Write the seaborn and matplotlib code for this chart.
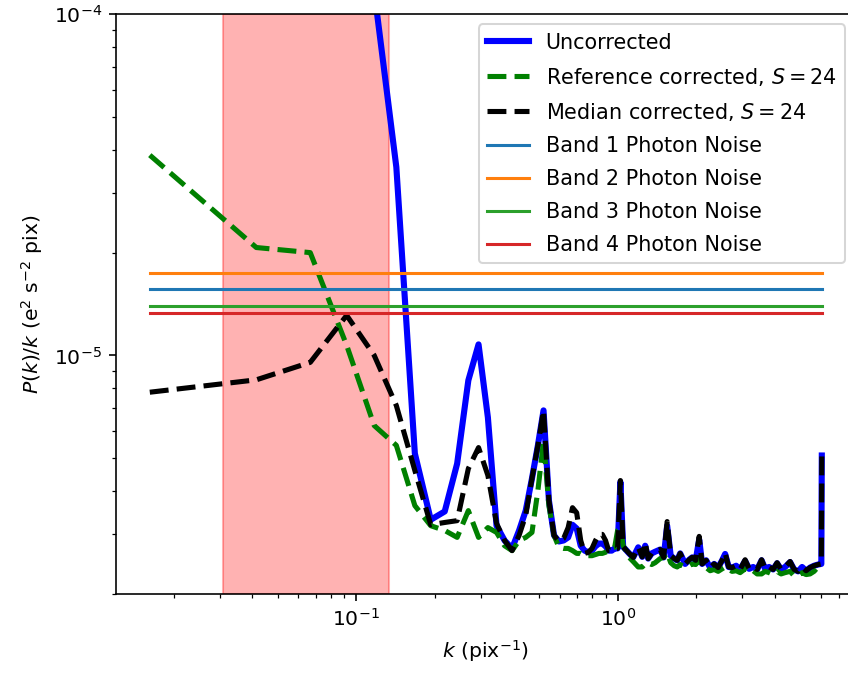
import matplotlib
matplotlib.use("Agg")
import matplotlib.pyplot as plt
import seaborn as sns
import pandas as pd

# Wavenumbers (pix^-1) at which the spectra are sampled
k = [0.0162, 0.0414, 0.0666, 0.0918, 0.1170, 0.1422, 0.1674, 0.1926, 0.2178, 0.2430,
     0.2682, 0.2934, 0.3186, 0.3438, 0.3690, 0.3942, 0.4194, 0.4446, 0.4698, 0.4950,
     0.5202, 0.5454, 0.5706, 0.5958, 0.6210, 0.6462, 0.6714, 0.6966, 0.7218, 0.7470,
     0.7722, 0.7974, 0.8226, 0.8478, 0.8730, 0.8982, 0.9234, 0.9486, 0.9738, 0.9990,
     1.024,
     1.049, 1.106, 1.146, 1.198, 1.241, 1.274, 1.308, 1.349, 1.391, 1.454,
     1.499, 1.546, 1.595, 1.645, 1.689, 1.734, 1.812, 1.877, 1.927, 1.988,
     2.050, 2.104, 2.180, 2.258, 2.339, 2.423, 2.509, 2.577, 2.658, 2.741,
     2.839, 2.941, 3.073, 3.184, 3.298, 3.416, 3.553, 3.665, 3.796, 3.932,
     4.073, 4.219, 4.370, 4.567, 4.732, 4.901, 5.076, 5.258, 5.447, 5.642,
     5.844, 6.014, 6.039]

# P(k)/k (e^2 s^-2 pix)
uncorrected = [9.0e-4, 6.0e-4, 4.0e-4, 2.4e-4, 1.17e-4, 3.56e-5, 5.16e-6, 3.30e-6, 3.49e-6, 4.82e-6,
               8.45e-6, 1.077e-5, 6.58e-6, 3.17e-6, 2.87e-6, 2.72e-6, 3.07e-6, 3.51e-6, 4.36e-6, 5.45e-6,
               6.90e-6, 3.76e-6, 2.97e-6, 2.85e-6, 2.87e-6, 2.93e-6, 3.19e-6, 3.11e-6, 2.77e-6, 2.68e-6,
               2.65e-6, 2.68e-6, 2.76e-6, 2.81e-6, 2.81e-6, 2.76e-6, 2.68e-6, 2.68e-6, 2.72e-6, 2.72e-6,
               4.26e-6,
               2.75e-6, 2.63e-6, 2.56e-6, 2.74e-6, 2.57e-6, 2.77e-6, 2.54e-6, 2.63e-6, 2.66e-6, 2.70e-6,
               2.56e-6, 3.17e-6, 2.59e-6, 2.54e-6, 2.51e-6, 2.63e-6, 2.45e-6, 2.52e-6, 2.56e-6, 2.51e-6,
               2.89e-6, 2.45e-6, 2.51e-6, 2.39e-6, 2.45e-6, 2.39e-6, 2.51e-6, 2.62e-6, 2.40e-6, 2.39e-6,
               2.42e-6, 2.36e-6, 2.50e-6, 2.37e-6, 2.40e-6, 2.36e-6, 2.51e-6, 2.37e-6, 2.40e-6, 2.36e-6,
               2.46e-6, 2.36e-6, 2.40e-6, 2.48e-6, 2.36e-6, 2.33e-6, 2.40e-6, 2.34e-6, 2.39e-6, 2.42e-6,
               2.44e-6, 2.45e-6, 5.09e-6]

reference_corrected = [3.86e-5, 2.07e-5, 2.00e-5, 1.07e-5, 6.23e-6, 5.45e-6, 3.63e-6, 3.17e-6, 3.07e-6, 2.93e-6,
                       3.51e-6, 2.93e-6, 3.13e-6, 3.03e-6, 2.77e-6, 2.68e-6, 2.87e-6, 2.93e-6, 3.03e-6, 4.02e-6,
                       5.63e-6, 3.63e-6, 2.97e-6, 2.74e-6, 2.72e-6, 2.72e-6, 2.68e-6, 2.63e-6, 2.63e-6, 2.59e-6,
                       2.59e-6, 2.59e-6, 2.61e-6, 2.63e-6, 2.63e-6, 2.65e-6, 2.68e-6, 2.72e-6, 2.74e-6, 3.07e-6,
                       3.13e-6,
                       2.77e-6, 2.56e-6, 2.49e-6, 2.40e-6, 2.40e-6, 2.45e-6, 2.47e-6, 2.44e-6, 2.47e-6, 2.54e-6,
                       2.56e-6, 2.64e-6, 2.47e-6, 2.42e-6, 2.40e-6, 2.44e-6, 2.40e-6, 2.42e-6, 2.45e-6, 2.44e-6,
                       2.54e-6, 2.40e-6, 2.39e-6, 2.34e-6, 2.36e-6, 2.33e-6, 2.37e-6, 2.40e-6, 2.36e-6, 2.33e-6,
                       2.34e-6, 2.31e-6, 2.37e-6, 2.31e-6, 2.34e-6, 2.29e-6, 2.29e-6, 2.33e-6, 2.31e-6, 2.28e-6,
                       2.33e-6, 2.29e-6, 2.31e-6, 2.33e-6, 2.26e-6, 2.26e-6, 2.31e-6, 2.28e-6, 2.29e-6, 2.33e-6,
                       2.40e-6, 2.42e-6, 2.45e-6]

median_corrected = [7.80e-6, 8.48e-6, 9.54e-6, 1.31e-5, 1.00e-5, 7.13e-6, 4.60e-6, 3.19e-6, 3.24e-6, 3.28e-6,
                    4.66e-6, 5.37e-6, 4.45e-6, 3.22e-6, 2.87e-6, 2.68e-6, 2.97e-6, 3.40e-6, 4.36e-6, 5.45e-6,
                    6.90e-6, 3.76e-6, 2.97e-6, 2.85e-6, 2.91e-6, 3.13e-6, 3.58e-6, 3.46e-6, 2.87e-6, 2.63e-6,
                    2.65e-6, 2.72e-6, 2.87e-6, 2.99e-6, 2.99e-6, 2.87e-6, 2.68e-6, 2.68e-6, 2.72e-6, 2.72e-6,
                    4.30e-6,
                    2.75e-6, 2.63e-6, 2.56e-6, 2.74e-6, 2.57e-6, 2.83e-6, 2.54e-6, 2.63e-6, 2.66e-6, 2.70e-6,
                    2.56e-6, 3.26e-6, 2.59e-6, 2.54e-6, 2.51e-6, 2.63e-6, 2.45e-6, 2.52e-6, 2.56e-6, 2.51e-6,
                    2.95e-6, 2.45e-6, 2.51e-6, 2.39e-6, 2.45e-6, 2.39e-6, 2.51e-6, 2.64e-6, 2.40e-6, 2.39e-6,
                    2.42e-6, 2.36e-6, 2.52e-6, 2.37e-6, 2.40e-6, 2.36e-6, 2.52e-6, 2.37e-6, 2.40e-6, 2.36e-6,
                    2.47e-6, 2.36e-6, 2.40e-6, 2.49e-6, 2.36e-6, 2.33e-6, 2.40e-6, 2.34e-6, 2.39e-6, 2.42e-6,
                    2.44e-6, 2.45e-6, 5.09e-6]

# Photon-noise floors for the four bands
band_labels = ["Band 1 Photon Noise", "Band 2 Photon Noise",
               "Band 3 Photon Noise", "Band 4 Photon Noise"]
band_noise = [1.562e-5, 1.743e-5, 1.399e-5, 1.330e-5]
band_colors = ["tab:blue", "tab:orange", "tab:green", "tab:red"]

# Wavenumber range excluded from the fit
excluded_k = (0.031, 0.133)

spectra = pd.DataFrame({
    "k": k,
    "uncorrected": uncorrected,
    "reference": reference_corrected,
    "median": median_corrected,
})

dpi = 147
fig = plt.figure(figsize=(848 / dpi, 675 / dpi), dpi=dpi)
ax = fig.add_axes([116.2 / 848, 81 / 675, 739.2 / 848, 580 / 675])

ax.axvspan(*excluded_k, color="red", alpha=0.3)

sns.lineplot(data=spectra, x="k", y="uncorrected", ax=ax, color="blue", lw=3,
             label="Uncorrected", errorbar=None)
sns.lineplot(data=spectra, x="k", y="reference", ax=ax, color="green", lw=2.5,
             linestyle="--", label=r"Reference corrected, $S = 24$", errorbar=None)
sns.lineplot(data=spectra, x="k", y="median", ax=ax, color="black", lw=2.5,
             linestyle="--", label=r"Median corrected, $S = 24$", errorbar=None)

k_span = [k[0], k[-1]]
for label, level, color in zip(band_labels, band_noise, band_colors):
    sns.lineplot(x=k_span, y=[level, level], ax=ax, color=color, lw=1.5,
                 label=label, errorbar=None)

ax.set_xscale("log")
ax.set_yscale("log")
ax.set_ylim(2e-6, 1e-4)
ax.set_xlabel(r"$k$ (pix$^{-1}$)")
ax.set_ylabel(r"$P(k)/k$ (e$^2$ s$^{-2}$ pix)")
ax.legend(loc="upper right", fontsize=10.2, labelspacing=0.625)

fig.savefig("out.png", dpi=dpi)
